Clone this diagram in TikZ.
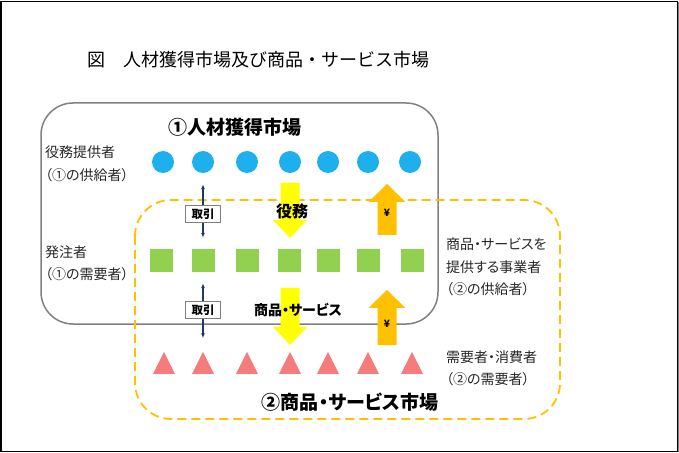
\documentclass[tikz,border=0pt]{standalone}
\usepackage{fontspec}
\setmainfont{Noto Sans CJK JP}
\newfontfamily\pfont[RawFeature=+palt]{Noto Sans CJK JP}
\usetikzlibrary{arrows.meta,shapes.geometric}
\definecolor{cblue}{HTML}{1DB0EC}
\definecolor{cgreen}{HTML}{92D050}
\definecolor{cred}{HTML}{F47C7C}
\definecolor{cyel}{HTML}{FFFF00}
\definecolor{corange}{HTML}{FFC000}
\definecolor{cnavy}{HTML}{203864}
\definecolor{cgray}{HTML}{808080}
\begin{document}
\begin{tikzpicture}[x=1bp,y=-1bp,
  lbl/.style={font=\pfont\fontsize{14bp}{16bp}\selectfont, inner sep=0pt, anchor=west, text=black!85},
  dot/.style={circle, fill=cblue, minimum size=22bp, inner sep=0pt},
  sq/.style={rectangle, fill=cgreen, minimum size=23bp, inner sep=0pt},
  tri/.style={isosceles triangle, isosceles triangle stretches, shape border rotate=90, fill=cred, minimum width=22bp, minimum height=22bp, inner sep=0pt},
  deal/.style={draw=cgray, fill=white, line width=0.9bp, inner sep=2bp, minimum width=35bp, minimum height=17bp, font=\pfont\bfseries\fontsize{11.5bp}{13bp}\selectfont},
  dblarr/.style={cnavy, line width=1.1bp, {Latex[length=5bp,width=4bp]}-{Latex[length=5bp,width=4bp]}},
  yen/.style={font=\bfseries\fontsize{10bp}{12bp}\selectfont, inner sep=0pt}
]
\useasboundingbox (0,0) rectangle (679,453);
% outer frame
\draw[line width=1.3bp] (1,1.5) rectangle (677.5,451.5);
\draw[cgray, line width=0.6bp] (678.6,2) -- (678.6,452);
% title
\node[anchor=west, inner sep=0pt, font=\fontsize{18bp}{20bp}\selectfont] (title) at (87,60) {図　人材獲得市場及び商品・サービス市場};
% market boxes
\draw[cgray, line width=1.5bp, rounded corners=32bp] (41,103) rectangle (438,324);
\draw[corange, line width=1.8bp, dash pattern=on 9bp off 5bp, rounded corners=36bp] (135,200) rectangle (560,419);
\node[font=\pfont\bfseries\fontsize{19bp}{21bp}\selectfont, inner sep=0pt] (m1) at (235,127) {①人材獲得市場};
\node[font=\pfont\bfseries\fontsize{19bp}{21bp}\selectfont, inner sep=0pt] (m2) at (350,402) {②商品・サービス市場};
% rows
\foreach \i/\x in {1/163,2/203,3/247,4/290,5/328,6/368,7/410} {
  \node[dot] (c\i) at (\x,162) {};
}
\foreach \i/\x in {1/161,2/203,3/247,4/289,5/328,6/368,7/412} {
  \node[sq] (s\i) at (\x,261) {};
}
\foreach \i/\x in {1/164,2/203,3/247,4/290,5/328,6/368,7/412} {
  \node[tri] (t\i) at (\x,367) {};
}
% labels
\node[lbl] (l1) at (45,152) {役務提供者};
\node[lbl] (l2) at (45,175) {（①の供給者）};
\node[lbl] (l3) at (45,252) {発注者};
\node[lbl] (l4) at (45,274) {（①の需要者）};
\node[lbl] (r1) at (446,244) {商品・サービスを};
\node[lbl] (r2) at (446,267) {提供する事業者};
\node[lbl] (r3) at (446,289) {（②の供給者）};
\node[lbl] (r4) at (446,357) {需要者・消費者};
\node[lbl] (r5) at (446,379) {（②の需要者）};
% transactions
\draw[dblarr, shorten <=11bp, shorten >=11.5bp] (c2.south) -- (s2.north);
\node[deal] (d1) at (203,214) {取引};
\draw[dblarr, shorten <=10.5bp, shorten >=13bp] (s2.south) -- (t2.north);
\node[deal] (d2) at (203,310) {取引};
% block arrows
\fill[cyel] (280.5,183) -- (299.5,183) -- (299.5,220) -- (307,220) -- (290,238) -- (273,220) -- (280.5,220) -- cycle;
\fill[cyel] (280.5,288) -- (299.5,288) -- (299.5,327) -- (307,327) -- (290,345) -- (273,327) -- (280.5,327) -- cycle;
\fill[corange] (377.5,235) -- (396.5,235) -- (396.5,202) -- (405.5,202) -- (387,184) -- (368.5,202) -- (377.5,202) -- cycle;
\fill[corange] (377.5,345) -- (396.5,345) -- (396.5,308) -- (405.5,308) -- (387,290) -- (368.5,308) -- (377.5,308) -- cycle;
\node[yen] (y1) at (387,213) {¥};
\node[yen] (y2) at (387,324) {¥};
\node[font=\pfont\bfseries\fontsize{16bp}{18bp}\selectfont, inner sep=0pt] (w1) at (292,211) {役務};
\node[font=\pfont\bfseries\fontsize{14bp}{16bp}\selectfont, inner sep=0pt] (w2) at (298,310) {商品・サービス};
\end{tikzpicture}
\end{document}
